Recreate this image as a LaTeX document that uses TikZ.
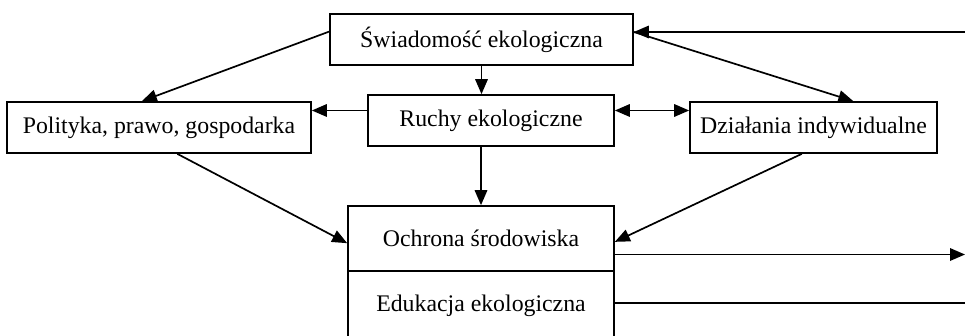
\documentclass[tikz,border=0pt]{standalone}
\usepackage{fontspec}
\setmainfont{Liberation Serif}
\usetikzlibrary{arrows.meta,calc}
\begin{document}
\begin{tikzpicture}[x=1pt,y=-1pt,
  txt/.style={inner sep=0pt, font=\fontsize{23.8}{28}\selectfont},
  box/.style={txt, draw, line width=1.7pt},
  ln/.style={line width=1.7pt},
  arr/.style={ln, -{Triangle[length=15pt,width=12.5pt]}},
  darr/.style={ln, {Triangle[length=15pt,width=12.5pt]}-{Triangle[length=15pt,width=12.5pt]}}]
\useasboundingbox (0,0) rectangle (965,335);
\clip (0,0) rectangle (965,335);

\node[box, minimum width=303pt, minimum height=51pt] (swiad) at (481.5,39.5) {Świadomość ekologiczna};
\node[box, minimum width=304pt, minimum height=51pt] (polit) at (159,127.5) {Polityka, prawo, gospodarka};
\node[box, minimum width=246pt, minimum height=51pt] (ruchy) at (491,120.5) {Ruchy ekologiczne};
\node[box, minimum width=247pt, minimum height=51pt] (dzial) at (813.5,127.5) {Działania indywidualne};
\node[box, minimum width=266pt, minimum height=65pt] (ochr) at (481,238.5) {Ochrona środowiska};
\node[txt, minimum width=266pt, minimum height=70pt] (edu) at (481,306) {Edukacja ekologiczna};
\draw[ln] (edu.north west) -- (edu.south west) (edu.north east) -- (edu.south east);

\coordinate (inR) at (965,32);
\coordinate (outR) at (965,254);
\coordinate (eduR) at (965,303);

% incoming from the right to the top box
\draw[arr] (inR) -- (inR -| swiad.east);
% top box -> individual actions
\draw[arr] (inR -| swiad.east) -- ($(dzial.north west)!0.66!(dzial.north east)$);
% top box -> politics
\draw[arr] ($(swiad.north west)!0.35!(swiad.south west)$) -- ($(polit.north west)!0.444!(polit.north east)$);
% top box -> movements
\draw[arr] (swiad.south) -- (swiad.south |- ruchy.north);
% movements -> politics
\coordinate (rl) at ($(ruchy.north west)!0.31!(ruchy.south west)$);
\draw[arr] (rl) -- (rl -| polit.east);
% movements <-> individual actions
\coordinate (rr) at ($(ruchy.north east)!0.31!(ruchy.south east)$);
\draw[darr] (rr) -- (rr -| dzial.west);
% movements -> protection
\draw[arr] (ochr.north |- ruchy.south) -- (ochr.north);
% politics -> protection
\draw[arr] ($(polit.south west)!0.56!(polit.south east)$) -- ($(ochr.north west)!0.57!(ochr.south west)$);
% individual actions -> protection
\draw[arr] ($(dzial.south west)!0.453!(dzial.south east)$) -- ($(ochr.north east)!0.55!(ochr.south east)$);
% protection -> out
\coordinate (oe) at ($(ochr.north east)!0.74!(ochr.south east)$);
\draw[arr] (oe) -- (oe -| outR);
% education -> out
\draw[ln] (eduR -| edu.east) -- (eduR);
\end{tikzpicture}
\end{document}
